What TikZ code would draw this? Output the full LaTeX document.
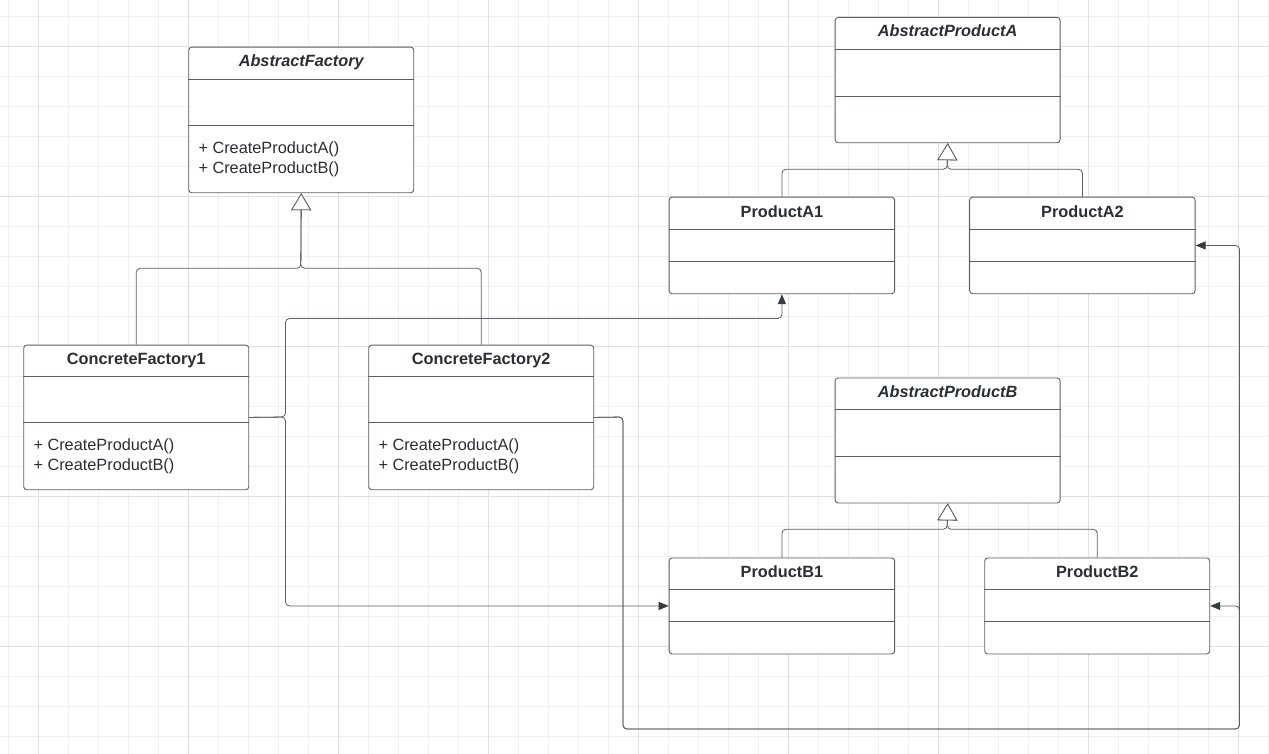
\documentclass[tikz,border=0pt]{standalone}
\usepackage{fontspec}
\setmainfont{Liberation Sans}
\usetikzlibrary{arrows.meta}
\definecolor{gridminor}{HTML}{F0F0F0}
\definecolor{gridmajor}{HTML}{E0E0E0}
\definecolor{border}{HTML}{5B5F64}
\definecolor{txt}{HTML}{2A2F36}
\definecolor{tipc}{HTML}{353B42}
\begin{document}
\begin{tikzpicture}[x=1pt,y=-1pt,
  cls/.style={draw=border, line width=0.9pt, fill=white, rounded corners=3pt, anchor=north west, inner sep=0pt},
  divl/.style={draw=border, line width=0.8pt},
  ttl/.style={font=\fontsize{16.3}{20}\selectfont\bfseries, text=txt, anchor=base, inner sep=0pt},
  ttli/.style={font=\fontsize{16.3}{20}\selectfont\bfseries\itshape, text=txt, anchor=base, inner sep=0pt},
  meth/.style={font=\fontsize{16.3}{20}\selectfont, text=txt, anchor=base west, inner sep=0pt},
  gen/.style={draw=border, line width=0.8pt, rounded corners=4pt, -{Triangle[length=17pt, width=20pt, fill=white]}},
  dep/.style={draw=border, line width=0.8pt, rounded corners=4pt, -{Triangle[length=10pt, width=8pt, color=tipc]}},
]
\useasboundingbox (0,0) rectangle (1269,754);
\fill[white] (0,0) rectangle (1269,754);
% grid
\foreach \x in {8,38,...,1268} \draw[gridminor, line width=0.8pt] (\x,0) -- (\x,754);
\foreach \y in {16,46,...,750} \draw[gridminor, line width=0.8pt] (0,\y) -- (1269,\y);
\foreach \x in {38,188,...,1268} \draw[gridmajor, line width=0.9pt] (\x,0) -- (\x,754);
\foreach \y in {46,196,...,750} \draw[gridmajor, line width=0.9pt] (0,\y) -- (1269,\y);

% AbstractFactory
\node[cls, minimum width=225pt, minimum height=145.6pt] (af) at (188.3,46.7) {};
\draw[divl] ([yshift=-32.6pt]af.north west) -- ([yshift=-32.6pt]af.north east);
\draw[divl] ([yshift=-79pt]af.north west) -- ([yshift=-79pt]af.north east);
\node[ttli] (aft) at ([yshift=-20pt]af.north) {AbstractFactory};
\node[meth] (afm1) at ([xshift=10pt,yshift=-106.6pt]af.north west) {+ CreateProductA()};
\node[meth] (afm2) at ([xshift=10pt,yshift=-126.6pt]af.north west) {+ CreateProductB()};

% ConcreteFactory1
\node[cls, minimum width=225pt, minimum height=144.6pt] (cf1) at (23.3,344.7) {};
\draw[divl] ([yshift=-31.3pt]cf1.north west) -- ([yshift=-31.3pt]cf1.north east);
\draw[divl] ([yshift=-77.6pt]cf1.north west) -- ([yshift=-77.6pt]cf1.north east);
\node[ttl] (cf1t) at ([yshift=-19.8pt]cf1.north) {ConcreteFactory1};
\node[meth] (cf1m1) at ([xshift=10pt,yshift=-105.5pt]cf1.north west) {+ CreateProductA()};
\node[meth] (cf1m2) at ([xshift=10pt,yshift=-125.5pt]cf1.north west) {+ CreateProductB()};

% ConcreteFactory2
\node[cls, minimum width=225pt, minimum height=144.6pt] (cf2) at (368.3,344.7) {};
\draw[divl] ([yshift=-31.3pt]cf2.north west) -- ([yshift=-31.3pt]cf2.north east);
\draw[divl] ([yshift=-77.6pt]cf2.north west) -- ([yshift=-77.6pt]cf2.north east);
\node[ttl] (cf2t) at ([yshift=-19.8pt]cf2.north) {ConcreteFactory2};
\node[meth] (cf2m1) at ([xshift=10pt,yshift=-105.5pt]cf2.north west) {+ CreateProductA()};
\node[meth] (cf2m2) at ([xshift=10pt,yshift=-125.5pt]cf2.north west) {+ CreateProductB()};

% AbstractProductA
\node[cls, minimum width=225pt, minimum height=125.3pt] (apa) at (834.7,17) {};
\draw[divl] ([yshift=-32pt]apa.north west) -- ([yshift=-32pt]apa.north east);
\draw[divl] ([yshift=-79pt]apa.north west) -- ([yshift=-79pt]apa.north east);
\node[ttli] (apat) at ([yshift=-20pt]apa.north) {AbstractProductA};

% ProductA1
\node[cls, minimum width=225.5pt, minimum height=96.6pt] (pa1) at (668.7,196.7) {};
\draw[divl] ([yshift=-32.3pt]pa1.north west) -- ([yshift=-32.3pt]pa1.north east);
\draw[divl] ([yshift=-64.6pt]pa1.north west) -- ([yshift=-64.6pt]pa1.north east);
\node[ttl] (pa1t) at ([yshift=-20.4pt]pa1.north) {ProductA1};

% ProductA2
\node[cls, minimum width=225.5pt, minimum height=96.6pt] (pa2) at (969.2,196.7) {};
\draw[divl] ([yshift=-32.3pt]pa2.north west) -- ([yshift=-32.3pt]pa2.north east);
\draw[divl] ([yshift=-64.6pt]pa2.north west) -- ([yshift=-64.6pt]pa2.north east);
\node[ttl] (pa2t) at ([yshift=-20.4pt]pa2.north) {ProductA2};

% AbstractProductB
\node[cls, minimum width=225pt, minimum height=125pt] (apb) at (834.7,377.5) {};
\draw[divl] ([yshift=-32pt]apb.north west) -- ([yshift=-32pt]apb.north east);
\draw[divl] ([yshift=-79pt]apb.north west) -- ([yshift=-79pt]apb.north east);
\node[ttli] (apbt) at ([yshift=-20pt]apb.north) {AbstractProductB};

% ProductB1
\node[cls, minimum width=225.5pt, minimum height=96pt] (pb1) at (668.7,557.5) {};
\draw[divl] ([yshift=-32pt]pb1.north west) -- ([yshift=-32pt]pb1.north east);
\draw[divl] ([yshift=-64pt]pb1.north west) -- ([yshift=-64pt]pb1.north east);
\node[ttl] (pb1t) at ([yshift=-20.4pt]pb1.north) {ProductB1};

% ProductB2
\node[cls, minimum width=225pt, minimum height=96pt] (pb2) at (984.3,557.5) {};
\draw[divl] ([yshift=-32pt]pb2.north west) -- ([yshift=-32pt]pb2.north east);
\draw[divl] ([yshift=-64pt]pb2.north west) -- ([yshift=-64pt]pb2.north east);
\node[ttl] (pb2t) at ([yshift=-20.4pt]pb2.north) {ProductB2};

% generalisation
\coordinate (afj) at (300.8,268.3);
\draw[gen] (cf1.north) |- (afj) -- (af.south);
\draw[gen] (cf2.north) |- (afj) -- (af.south);
\coordinate (apaj) at (947.2,169.3);
\draw[gen] (pa1.north) |- (apaj) -- (apa.south);
\draw[gen] (pa2.north) |- (apaj) -- (apa.south);
\coordinate (apbj) at (947.2,529.3);
\draw[gen] (pb1.north) |- (apbj) -- (apb.south);
\draw[gen] (pb2.north) |- (apbj) -- (apb.south);

% dependencies
\coordinate (d1) at (285.5,417);
\coordinate (d1t) at (285.5,318.5);
\draw[dep] (cf1.east) -- (d1) -- (d1t) -| (pa1.south);
\draw[dep] (cf1.east) -- (d1) |- (pb1.west);
\coordinate (d2) at (623,417);
\coordinate (d2b) at (623,729);
\coordinate (d2r) at (1239.5,729);
\draw[dep] (cf2.east) -- (d2) -- (d2b) -- (d2r) |- (pb2.east);
\draw[dep] (cf2.east) -- (d2) -- (d2b) -- (d2r) |- (pa2.east);
\end{tikzpicture}
\end{document}
